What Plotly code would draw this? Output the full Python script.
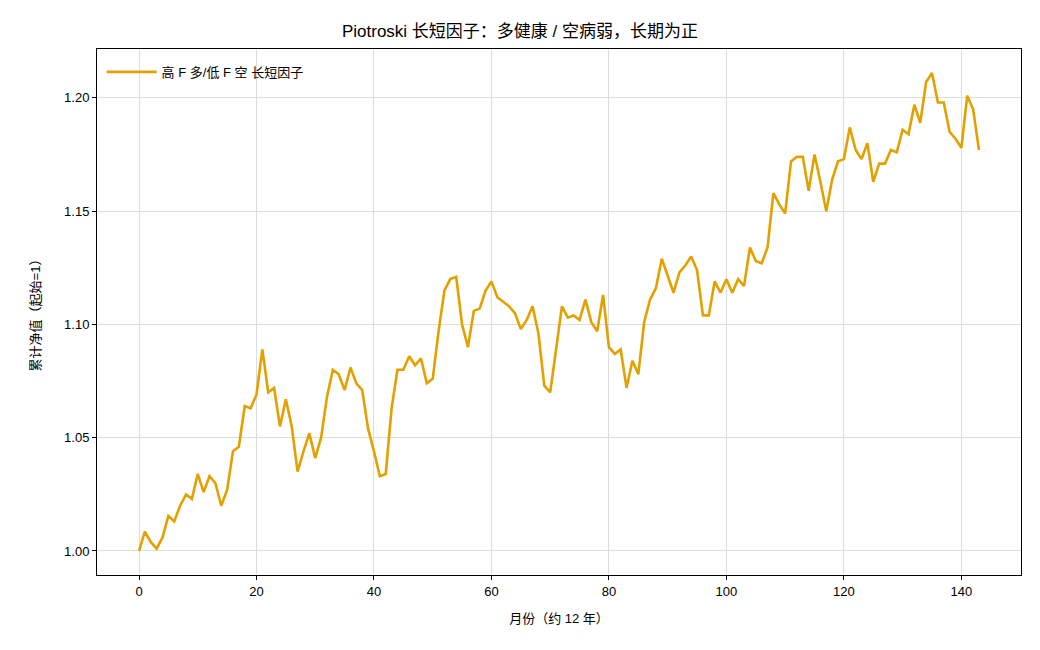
import plotly.graph_objects as go

months = list(range(144))
nav = [
    1.000, 1.0085, 1.004, 1.001, 1.006, 1.0155, 1.013, 1.020, 1.025, 1.023,
    1.034, 1.026, 1.033, 1.030, 1.020, 1.027, 1.044, 1.046, 1.064, 1.063,
    1.069, 1.089, 1.070, 1.072, 1.055, 1.067, 1.055, 1.035, 1.044, 1.052,
    1.041, 1.050, 1.068, 1.080, 1.078, 1.071, 1.081, 1.074, 1.071, 1.054,
    1.044, 1.033, 1.034, 1.063, 1.080, 1.080, 1.086, 1.082, 1.085, 1.074,
    1.076, 1.097, 1.115, 1.120, 1.121, 1.100, 1.090, 1.106, 1.107, 1.115,
    1.119, 1.112, 1.110, 1.108, 1.105, 1.098, 1.102, 1.108, 1.096, 1.073,
    1.070, 1.088, 1.108, 1.103, 1.104, 1.102, 1.111, 1.101, 1.097, 1.113,
    1.090, 1.087, 1.089, 1.072, 1.084, 1.078, 1.101, 1.111, 1.116, 1.129,
    1.121, 1.114, 1.123, 1.126, 1.130, 1.124, 1.104, 1.104, 1.119, 1.114,
    1.120, 1.114, 1.120, 1.117, 1.134, 1.128, 1.127, 1.134, 1.158, 1.153,
    1.149, 1.172, 1.174, 1.174, 1.159, 1.175, 1.163, 1.150, 1.164, 1.172,
    1.173, 1.187, 1.177, 1.173, 1.180, 1.163, 1.171, 1.171, 1.177, 1.176,
    1.186, 1.184, 1.197, 1.189, 1.207, 1.211, 1.198, 1.198, 1.185, 1.182,
    1.178, 1.201, 1.195, 1.177,
]
series_name = "高 F 多/低 F 空 长短因子"
title_text = "Piotroski 长短因子：多健康 / 空病弱，长期为正"
x_title = "月份（约 12 年）"
y_title = "累计净值（起始=1）"
x_ticks = [0, 20, 40, 60, 80, 100, 120, 140]
y_ticks = [1.00, 1.05, 1.10, 1.15, 1.20]

FONT = "Liberation Sans, Arial, Noto Sans CJK SC, sans-serif"

fig = go.Figure()
fig.add_trace(go.Scatter(
    x=months, y=nav, mode="lines", name=series_name,
    line=dict(color="#E3A100", width=2.6),
))

axis_common = dict(
    showline=True, linecolor="black", linewidth=1, mirror=True,
    ticks="outside", ticklen=4, tickcolor="black",
    showgrid=True, gridcolor="#DDDDDD", gridwidth=1, zeroline=False,
    tickfont=dict(size=13, color="black"),
)

fig.update_layout(
    width=1040, height=650,
    margin=dict(l=97, r=19, t=49, b=75),
    paper_bgcolor="white", plot_bgcolor="white",
    font=dict(family=FONT, color="black", size=13),
    title=dict(text=title_text, x=0.5, xanchor="center", y=0.952, yanchor="middle",
               font=dict(size=17, color="black")),
    showlegend=True,
    legend=dict(x=0.005, y=0.985, xanchor="left", yanchor="top", itemwidth=50,
                bgcolor="rgba(255,255,255,0)", font=dict(size=13)),
    xaxis=dict(range=[-7.15, 150.15], tickvals=x_ticks,
               title=dict(text=x_title, font=dict(size=13), standoff=16), **axis_common),
    yaxis=dict(range=[0.9894, 1.2216], tickvals=y_ticks, tickformat=".2f",
               title=dict(text=y_title, font=dict(size=13), standoff=20), **axis_common),
)

fig.write_html("out.html")
